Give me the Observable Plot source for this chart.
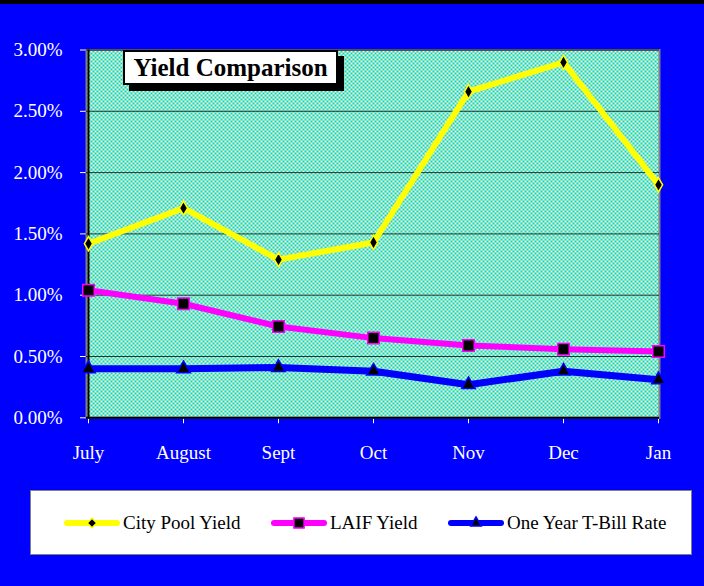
<!DOCTYPE html>
<html>
<head>
<meta charset="utf-8">
<script src="https://cdn.jsdelivr.net/npm/d3@7"></script>
<script src="https://cdn.jsdelivr.net/npm/@observablehq/plot@0.6"></script>
<style>
  html, body { margin: 0; padding: 0; background: #0000FF; }
  #wrap { position: relative; width: 704px; height: 586px; background: #0000FF; overflow: hidden; font-family: "Liberation Serif", "Times New Roman", serif; }
  #band { position: absolute; left: 0; top: 0; width: 704px; height: 4px; background: #000; }
  #title { position: absolute; left: 123px; top: 50px; width: 211px; height: 31px; background: #fff; border: 2px solid #000;
           box-shadow: 6px 6px 0 #000; font-weight: bold; font-size: 25px; line-height: 31px; text-align: center; color: #000; }
  #legend { position: absolute; left: 30px; top: 490px; width: 660px; height: 63px; background: #fff; border: 1px solid #808080;
            font-size: 19px; color: #000; }
  .item { position: absolute; top: 0; height: 63px; display: flex; align-items: center; white-space: nowrap; }
  .item svg { margin-right: 3px; }
</style>
</head>
<body>
<div id="wrap">
  <div id="chart"></div>
  <div id="band"></div>
  <div id="title">Yield Comparison</div>
  <div id="legend"></div>
</div>
<script>
const months = ["July", "August", "Sept", "Oct", "Nov", "Dec", "Jan"];
const cityPool = [1.42, 1.71, 1.29, 1.43, 2.66, 2.90, 1.90];
const laif = [1.04, 0.93, 0.745, 0.65, 0.59, 0.56, 0.54];
const tbill = [0.40, 0.40, 0.41, 0.38, 0.27, 0.38, 0.31];
const yTicks = [0, 0.5, 1.0, 1.5, 2.0, 2.5, 3.0];

const seriesNames = ["City Pool Yield", "LAIF Yield", "One Year T-Bill Rate"];
const seriesValues = [cityPool, laif, tbill];
const seriesColor = ["#FFFF00", "#FF00FF", "#0000FF"];

const rows = [];
seriesNames.forEach((s, i) => months.forEach((m, j) => rows.push({series: s, month: m, value: seriesValues[i][j] / 100})));
const bySeries = s => rows.filter(r => r.series === s);

const chart = Plot.plot({
  width: 704,
  height: 480,
  marginLeft: 86,
  marginRight: 45,
  marginTop: 49.5,
  marginBottom: 62.7,
  style: {background: "transparent", color: "white", fontFamily: "'Liberation Serif', 'Times New Roman', serif", fontSize: "19px"},
  x: {type: "point", domain: months, padding: 0, label: null, tickSize: 6, tickPadding: 22},
  y: {domain: [0, 0.03], ticks: yTicks.map(v => v / 100), tickFormat: d3.format(".2%"), label: null, tickSize: 6, tickPadding: 18},
  marks: [
    Plot.frame({fill: "url(#chk)", stroke: "#808080", strokeWidth: 2}),
    Plot.gridY(yTicks.map(v => v / 100), {stroke: "#000", strokeOpacity: 0.75, strokeWidth: 1}),
    Plot.ruleY([0], {stroke: "#000", strokeWidth: 2}),
    Plot.ruleX([months[0]], {stroke: "#000", strokeWidth: 2}),
    Plot.line(bySeries(seriesNames[2]), {x: "month", y: "value", stroke: seriesColor[2], strokeWidth: 7, strokeLinejoin: "round", strokeLinecap: "round"}),
    Plot.line(bySeries(seriesNames[1]), {x: "month", y: "value", stroke: seriesColor[1], strokeWidth: 6, strokeLinejoin: "round", strokeLinecap: "round"}),
    Plot.line(bySeries(seriesNames[0]), {x: "month", y: "value", stroke: seriesColor[0], strokeWidth: 6, strokeLinejoin: "round", strokeLinecap: "round"}),
    Plot.dot(bySeries(seriesNames[2]), {x: "month", y: "value", symbol: "triangle", r: 5, fill: "#000", stroke: seriesColor[2], strokeWidth: 1.5}),
    Plot.dot(bySeries(seriesNames[1]), {x: "month", y: "value", symbol: "square", r: 6.5, fill: "#000", stroke: seriesColor[1], strokeWidth: 1.5}),
    Plot.dot(bySeries(seriesNames[0]), {x: "month", y: "value", symbol: "diamond", r: 4.3, fill: "#000", stroke: seriesColor[0], strokeWidth: 1.5})
  ]
});

// checker pattern for plot area
const svg = d3.select(chart);
const defs = svg.insert("defs", ":first-child");
const pat = defs.append("pattern").attr("id", "chk").attr("patternUnits", "userSpaceOnUse").attr("width", 4).attr("height", 4);
pat.append("rect").attr("width", 4).attr("height", 4).attr("fill", "#00CCFF").attr("shape-rendering", "crispEdges");
pat.append("rect").attr("width", 2).attr("height", 2).attr("fill", "#FFFF99").attr("shape-rendering", "crispEdges");
pat.append("rect").attr("x", 2).attr("y", 2).attr("width", 2).attr("height", 2).attr("fill", "#FFFF99").attr("shape-rendering", "crispEdges");
document.getElementById("chart").appendChild(chart);

// legend
const legend = document.getElementById("legend");
const itemLeft = [33, 240, 417];
const symbols = ["diamond", "square", "triangle"];
const symSize = [4.3, 6.5, 5];
seriesNames.forEach((name, i) => {
  const item = document.createElement("div");
  item.className = "item";
  item.style.left = itemLeft[i] + "px";
  const ns = "http://www.w3.org/2000/svg";
  const s = document.createElementNS(ns, "svg");
  s.setAttribute("width", 56); s.setAttribute("height", 20);
  const ln = document.createElementNS(ns, "line");
  ln.setAttribute("x1", 3); ln.setAttribute("x2", 53); ln.setAttribute("y1", 10); ln.setAttribute("y2", 10);
  ln.setAttribute("stroke", seriesColor[i]); ln.setAttribute("stroke-width", 6); ln.setAttribute("stroke-linecap", "round");
  s.appendChild(ln);
  const p = document.createElementNS(ns, "path");
  const symType = {diamond: d3.symbolDiamond2, square: d3.symbolSquare2, triangle: d3.symbolTriangle2}[symbols[i]];
  const r = symSize[i];
  p.setAttribute("d", d3.symbol(symType, r * r * Math.PI)());
  p.setAttribute("transform", "translate(28,10)");
  p.setAttribute("fill", "#000"); p.setAttribute("stroke", seriesColor[i]); p.setAttribute("stroke-width", 1.5);
  s.appendChild(p);
  item.appendChild(s);
  const t = document.createElement("span");
  t.textContent = name;
  item.appendChild(t);
  legend.appendChild(item);
});
</script>
</body>
</html>
